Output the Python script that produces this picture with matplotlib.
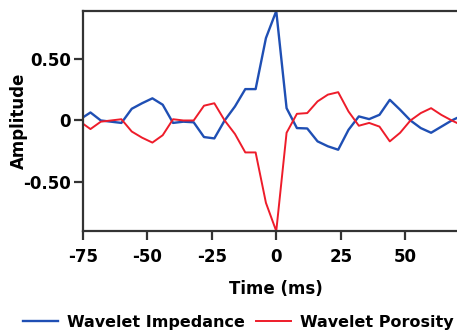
import matplotlib
matplotlib.use("Agg")
import matplotlib.pyplot as plt

time_ms = [-76, -72, -68, -64, -60, -56, -52, -48, -44, -40, -36, -32, -28, -24, -20,
           -16, -12, -8, -4, 0, 4, 8, 12, 16, 20, 24, 28, 32, 36, 40, 44, 48, 52, 56,
           60, 64, 68, 72]
impedance = [0.01, 0.065, 0.0, -0.01, -0.02, 0.095, 0.14, 0.18, 0.128, -0.02, -0.01,
             -0.015, -0.135, -0.146, 0.0, 0.114, 0.255, 0.255, 0.67, 0.89, 0.10,
             -0.062, -0.065, -0.17, -0.21, -0.238, -0.076, 0.033, 0.011, 0.046, 0.168,
             0.087, 0.0, -0.062, -0.10, -0.05, 0.0, 0.04]
porosity = [-0.01, -0.07, -0.01, 0.0, 0.01, -0.09, -0.14, -0.18, -0.12, 0.01, 0.0,
            0.0, 0.12, 0.14, 0.0, -0.11, -0.26, -0.26, -0.67, -0.90, -0.10,
            0.054, 0.06, 0.155, 0.21, 0.23, 0.073, -0.043, -0.02, -0.05, -0.17,
            -0.10, 0.0, 0.06, 0.10, 0.045, 0.0, -0.04]
x_ticks = [-75, -50, -25, 0, 25, 50]
x_tick_labels = ["-75", "-50", "-25", "0", "25", "50"]
y_ticks = [-0.5, 0, 0.5]
y_tick_labels = ["-0.50", "0", "0.50"]

plt.rcParams['font.family'] = ['DejaVu Sans']
plt.rcParams['font.weight'] = 'bold'
plt.rcParams['axes.unicode_minus'] = False

fig = plt.figure(figsize=(4.57, 3.34), dpi=100)
ax = fig.add_axes([0.181, 0.308, 1.028 - 0.181, 0.967 - 0.308])

ax.plot(time_ms, impedance, color='#1f4fb4', lw=1.7, label='Wavelet Impedance')
ax.plot(time_ms, porosity, color='#ee1c2a', lw=1.4, label='Wavelet Porosity')

ax.set_xlim(-75, 75)
ax.set_ylim(-0.9, 0.89)
ax.set_xticks(x_ticks)
ax.set_xticklabels(x_tick_labels)
ax.set_yticks(y_ticks)
ax.set_yticklabels(y_tick_labels)
for s in ax.spines.values():
    s.set_linewidth(1.6)
    s.set_color('#333333')
ax.tick_params(axis='both', direction='out', length=6.5, width=1.6, color='#333333',
               labelsize=12, pad=2)
ax.tick_params(axis='x', pad=6)
for lab in ax.get_xticklabels() + ax.get_yticklabels():
    lab.set_fontweight('bold')
ax.set_xlabel('Time (ms)', fontsize=12, fontweight='bold', labelpad=10)
ax.set_ylabel('Amplitude', fontsize=12, fontweight='bold')
ax.yaxis.set_label_coords(-0.141, 0.5)

fig.legend(loc='center', bbox_to_anchor=(0.522, 0.035), ncol=2, frameon=False,
           handlelength=2.2, columnspacing=0.7, handletextpad=0.55,
           prop={'weight': 'bold', 'size': 11.5})

fig.savefig('out.png', dpi=100)
